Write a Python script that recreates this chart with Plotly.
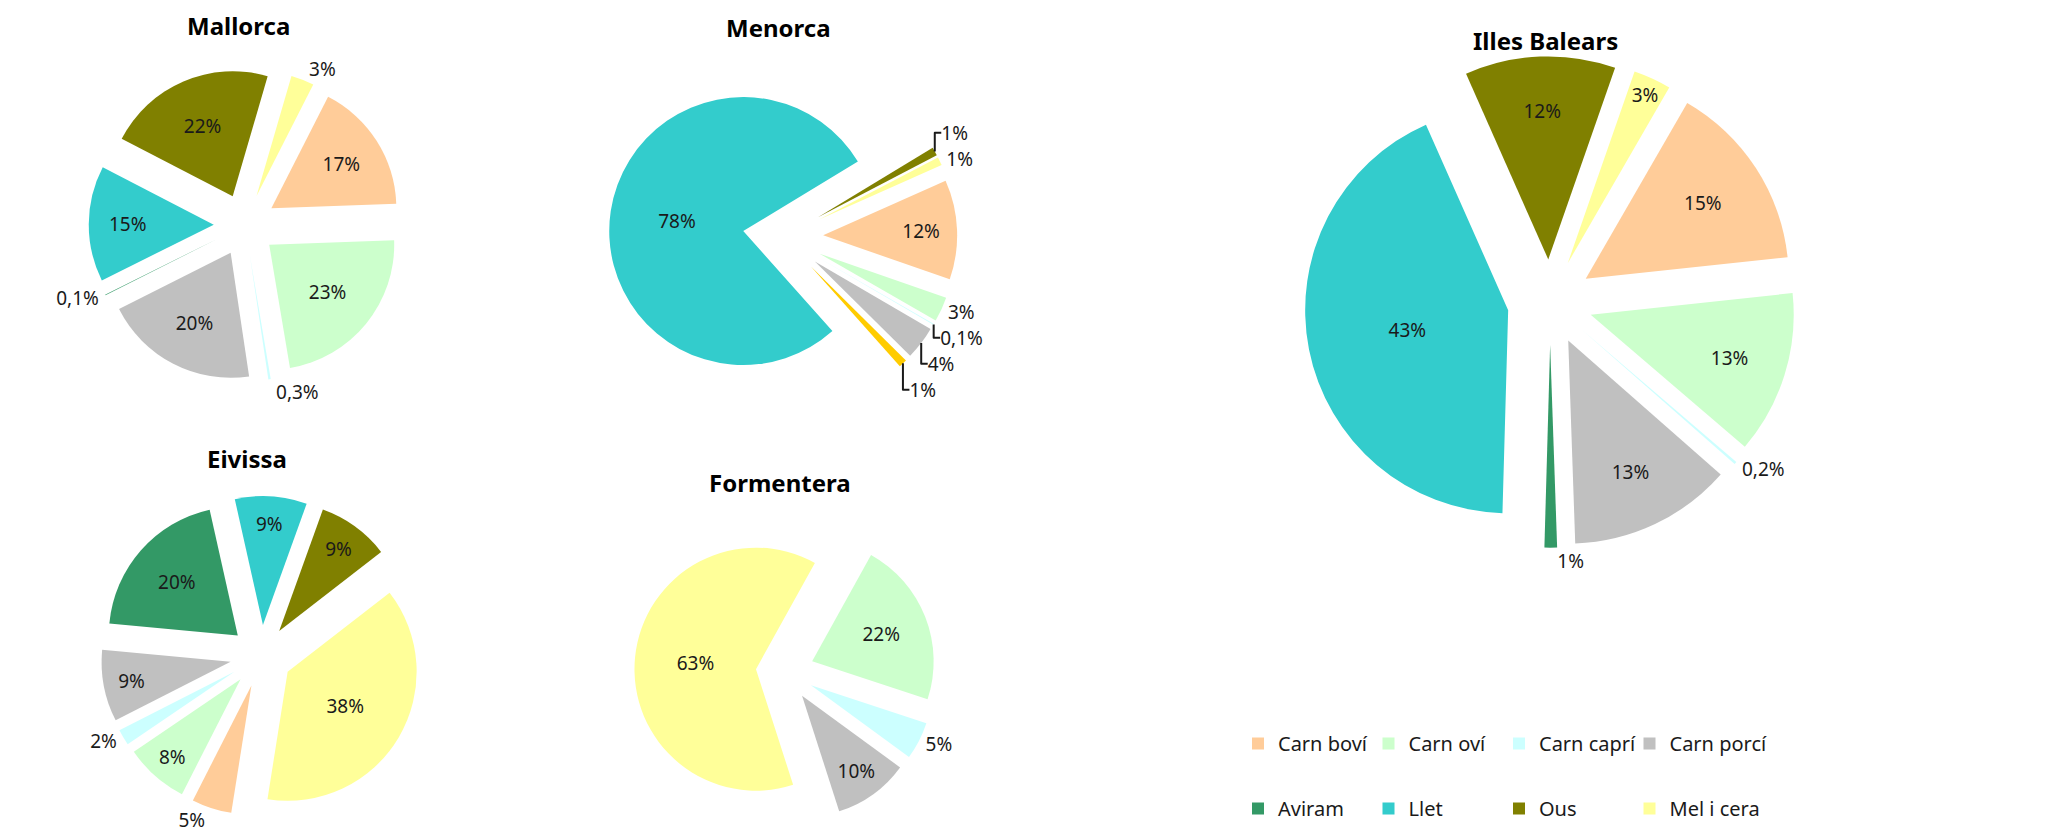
import plotly.graph_objects as go

# ---------------- data ----------------
categories = ["Carn boví", "Carn oví", "Carn caprí", "Carn porcí", "Aviram", "Llet", "Ous", "Mel i cera"]

mallorca = [17, 23, 0.3, 20, 0.1, 15, 22, 3]
menorca = [12, 3, 0.1, 4, 1, 78, 1, 1]
eivissa = [5, 8, 2, 9, 20, 9, 9, 38]
formentera = [0, 22, 5, 10, 0, 0, 0, 63]
illes_balears = [15, 13, 0.2, 13, 1, 43, 12, 3]

# ---------------- styles ----------------
colors = ["#FFCC99", "#CCFFCC", "#CCFFFF", "#C0C0C0", "#339966", "#33CCCC", "#808000", "#FFFF99"]
menorca_colors = ["#FFCC99", "#CCFFCC", "#CCFFFF", "#C0C0C0", "#FFCC00", "#33CCCC", "#808000", "#FFFF99"]

FONT = "Noto Sans"
W, H = 2045, 840


def fmt(v):
    return (f"{v:g}".replace(".", ",") + "%") if v else ""


def px_domain(cx, cy, half):
    return dict(x=[(cx - half) / W, (cx + half) / W],
                y=[(H - cy - half) / H, (H - cy + half) / H])


pies = [
    # name, values, colors, rotation, pull, radius, centre, text positions
    ("Mallorca", mallorca, colors, 27, 0.25, 125, (237, 217),
     ["inside", "inside", "outside", "inside", "outside", "inside", "inside", "outside"]),
    ("Menorca", menorca, menorca_colors, 66, 0.30, 134, (775, 229),
     ["inside", "outside", "outside", "outside", "outside", "inside", "outside", "outside"]),
    ("Eivissa", eivissa, colors, 189, 0.24, 129, (253, 648),
     ["outside", "inside", "outside", "inside", "inside", "inside", "inside", "inside"]),
    ("Formentera", formentera, colors, 29, 0.24, 121.5, (777, 664),
     ["inside", "inside", "outside", "inside", "inside", "inside", "inside", "inside"]),
    ("Illes Balears", illes_balears, colors, 30, 0.21, 203, (1542, 294),
     ["inside", "inside", "outside", "inside", "outside", "inside", "inside", "inside"]),
]

title_pos = {
    "Mallorca": (230, 17),
    "Menorca": (770, 19),
    "Eivissa": (239, 450),
    "Formentera": (772, 474),
    "Illes Balears": (1537, 33),
}

fig = go.Figure()
annotations = []
for name, vals, cols, rot, pull, r, (cx, cy), tpos in pies:
    half = r * (1 + pull)
    fig.add_trace(go.Pie(
        name=name,
        labels=categories,
        values=vals,
        sort=False,
        direction="clockwise",
        rotation=rot,
        pull=pull,
        marker=dict(colors=cols, line=dict(width=0)),
        text=[fmt(v) for v in vals],
        textinfo="text",
        textposition=[p if v else "none" for p, v in zip(tpos, vals)],
        insidetextorientation="horizontal",
        textfont=dict(family=FONT, size=19, color="#1a1a1a"),
        domain=px_domain(cx, cy, half),
        showlegend=False,
        hoverinfo="label+percent",
    ))
    tx, ty = title_pos[name]
    annotations.append(dict(
        text=f"<b>{name}</b>", x=tx / W, y=1 - ty / H, xref="paper", yref="paper",
        xanchor="center", yanchor="middle", showarrow=False,
        font=dict(family=FONT, size=24, color="#000000"),
    ))

# legend: 4 columns x 2 rows, each column is its own legend
legend_cols_x = [1230, 1360.5, 1491, 1621.5]
legend_names = ["legend", "legend2", "legend3", "legend4"]
for i, (cat, col) in enumerate(zip(categories, colors)):
    fig.add_trace(go.Scatter(
        x=[None], y=[None], mode="markers", name=cat,
        marker=dict(symbol="square", size=12, color=col),
        legend=legend_names[i % 4], legendgroup=cat,
        showlegend=True, hoverinfo="skip",
    ))

legend_layout = {}
for lname, lx in zip(legend_names, legend_cols_x):
    legend_layout[lname] = dict(
        orientation="v", xanchor="left", yanchor="middle",
        x=lx / W, y=1 - 768 / H,
        traceorder="grouped", tracegroupgap=36,
        font=dict(family=FONT, size=20, color="#1a1a1a"),
        bgcolor="rgba(0,0,0,0)", itemwidth=30,
    )

fig.update_layout(
    width=W, height=H,
    margin=dict(l=0, r=0, t=0, b=0, pad=0, autoexpand=False),
    paper_bgcolor="white", plot_bgcolor="white",
    xaxis=dict(visible=False), yaxis=dict(visible=False),
    annotations=annotations,
    uniformtext=dict(minsize=19, mode="show"),
    **legend_layout,
)

fig.write_html("out.html")
